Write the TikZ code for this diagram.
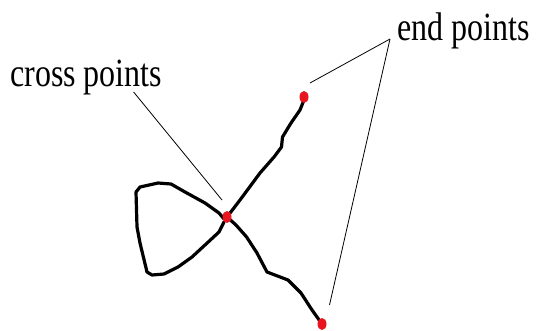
\documentclass[tikz,border=0pt]{standalone}
\usepackage{fontspec}
\setmainfont{Liberation Serif}
\usepackage{tikz}
\usetikzlibrary{positioning, calc, shapes.geometric}
\definecolor{dot-red}{HTML}{E8141E}

\begin{document}
\begin{tikzpicture}[
    x=1pt, y=-1pt,
    label/.style={inner sep=0pt, xscale=0.8, font=\fontsize{40}{44}\selectfont},
    dot/.style={ellipse, fill=dot-red, inner sep=0pt, minimum width=9pt, minimum height=12pt},
    curve/.style={line width=3.2pt, line join=round, line cap=round},
    leader/.style={line width=0.8pt}
]
\useasboundingbox (0,0) rectangle (537,331);

% Loop through the cross point
\draw[curve] (224,219) -- (219,213) -- (205,203) -- (185,192) -- (171,184) -- (158,183)
    -- (140,187) -- (136,192) -- (137,227) -- (140,243) -- (147,272) -- (152,275)
    -- (164,274) -- (178,267) -- (192,257) -- (205,245) -- (219,232) -- (224,222);

% Branch to upper end point
\draw[curve] (227,217) -- (240,200) -- (260,173) -- (274,157) -- (281.5,147) -- (282.5,137)
    -- (291,123) -- (300,110) -- (304,100);

% Branch to lower end point
\draw[curve] (227,217) -- (236,225) -- (246.6,237) -- (257,253) -- (267,272) -- (288,280)
    -- (301,293) -- (312,310) -- (322,324);

% Points
\node[dot] (cross) at (227,217) {};
\node[dot] (endtop) at (304,97) {};
\node[dot] (endbot) at (322,324) {};

% Labels
\node[label, anchor=base west] (crosslbl) at (10,86.5) {cross points};
\node[label, anchor=base west] (endlbl) at (397,40.5) {end points};

% Leader lines
\coordinate (crossfoot) at (133.6,92);
\coordinate (crosstip) at (222,200);
\coordinate (endapex) at (390,39);
\coordinate (toptip) at (310,83);
\coordinate (bottip) at (329.5,305);
\draw[leader] (crossfoot) -- (crosstip);
\draw[leader] (endapex) -- (toptip);
\draw[leader] (endapex) -- (bottip);

\end{tikzpicture}
\end{document}
